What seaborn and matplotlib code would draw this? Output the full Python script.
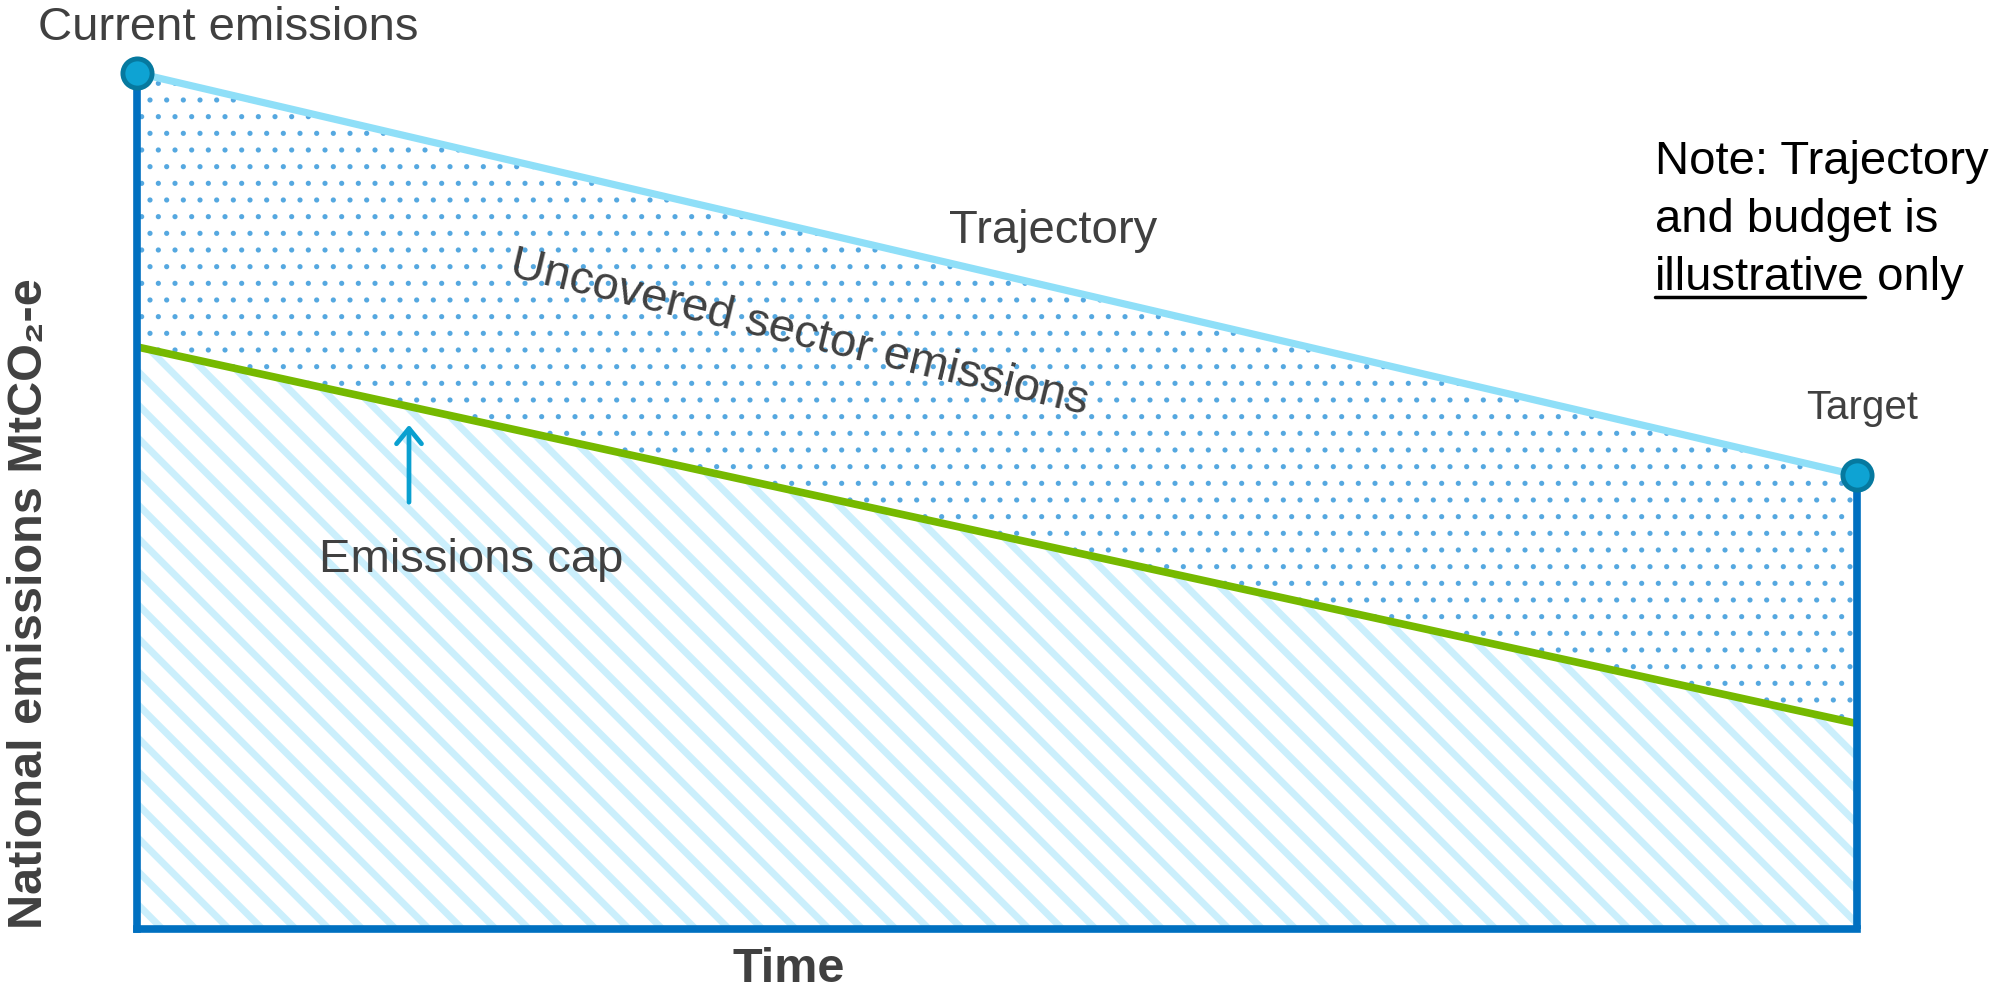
import matplotlib
matplotlib.use("Agg")
import matplotlib.pyplot as plt
import matplotlib.lines as mlines
import seaborn as sns
import pandas as pd

# ---------------- data ----------------
time = [0, 1]                      # current -> target
trajectory = [100, 53]             # national emissions trajectory
emissions_cap = [68, 24]           # covered-sector cap
point_labels = ["Current emissions", "Target"]

# ---------------- style ----------------
sns.set_style("white")
plt.rcParams['font.family'] = ['Liberation Sans', 'DejaVu Sans']

W, H = 2011, 992
GREY = '#404040'
AXIS_BLUE = '#0070c0'


def fx(px):
    return px / W


def fy(py):
    return 1 - py / H


fig = plt.figure(figsize=(W / 100, H / 100), dpi=100)
ax = fig.add_axes([fx(137), fy(929), (1857 - 137) / W, (929 - 73) / H])

df = pd.DataFrame({'time': time, 'trajectory': trajectory, 'cap': emissions_cap})

# hatched area under the cap (hatch linewidth is taken at creation time)
with plt.rc_context({'hatch.linewidth': 5.0}):
    cap_fill = ax.fill_between(df['time'], 0, df['cap'], facecolor='white',
                               edgecolor='#cbeffc', hatch='\\', linewidth=0, zorder=1)

# dotted area between cap and trajectory
with plt.rc_context({'hatch.linewidth': 1.3}):
    unc_fill = ax.fill_between(df['time'], df['cap'], df['trajectory'], facecolor='none',
                               edgecolor='#55a8e0', hatch='.', linewidth=0, zorder=1)

# lines
sns.lineplot(data=df, x='time', y='trajectory', color='#8fdff8', linewidth=5.2, ax=ax, zorder=3)
sns.lineplot(data=df, x='time', y='cap', color='#76b900', linewidth=5.5, ax=ax, zorder=3)

# vertical at target
ax.vlines(df['time'].iloc[-1], 0, df['trajectory'].iloc[-1], color=AXIS_BLUE,
          linewidth=5.5, zorder=4, clip_on=False)

# end-point markers
sns.scatterplot(data=df, x='time', y='trajectory', s=21 ** 2, color='#0ea3d3',
                edgecolor='#06799f', linewidth=3.5, zorder=6, clip_on=False, ax=ax)

ax.set_xlim(0, 1)
ax.set_ylim(0, 100)
ax.set_xticks([])
ax.set_yticks([])
sns.despine(ax=ax)
for s in ['left', 'bottom']:
    ax.spines[s].set_color(AXIS_BLUE)
    ax.spines[s].set_linewidth(5.5)
    ax.spines[s].set_zorder(5)

# axis labels
ax.set_xlabel('Time', fontsize=35, fontweight='bold', color=GREY)
ax.xaxis.set_label_coords((789 - 137) / 1720, (929 - 970) / 856)
ax.xaxis.label.set_va('center')
ax.set_ylabel('National emissions MtCO\u2082-e', fontsize=35, fontweight='bold', color=GREY)
ax.yaxis.set_label_coords((30 - 137) / 1720, (929 - 604) / 856)
ax.yaxis.label.set_va('center')

# annotations
fig.text(fx(228), fy(28), point_labels[0], fontsize=34, color=GREY, ha='center', va='center')
fig.text(fx(1862), fy(408), point_labels[1], fontsize=29, color=GREY, ha='center', va='center')
fig.text(fx(1053), fy(231), 'Trajectory', fontsize=34, color=GREY, ha='center', va='center')
fig.text(fx(799), fy(334), 'Uncovered sector emissions', fontsize=34, color=GREY,
         ha='center', va='center', rotation=-13.5, rotation_mode='anchor')
fig.text(fx(471), fy(560), 'Emissions cap', fontsize=34, color=GREY, ha='center', va='center')

ax.annotate('', xy=(fx(409), fy(422)), xytext=(fx(409), fy(505)),
            xycoords='figure fraction', textcoords='figure fraction',
            arrowprops=dict(arrowstyle='->,head_length=1.1,head_width=0.9',
                            color='#0aa0d0', lw=3.4))

# note box
fig.text(fx(1655), fy(174), 'Note: Trajectory', fontsize=34, color='black', va='baseline')
fig.text(fx(1655), fy(232), 'and budget is', fontsize=34, color='black', va='baseline')
t_ill = fig.text(fx(1655), fy(290), 'illustrative', fontsize=34, color='black', va='baseline')

fig.canvas.draw()
r = fig.canvas.get_renderer()
bb = t_ill.get_window_extent(renderer=r)
fig.text(bb.x1 / W, fy(290), ' only', fontsize=34, color='black', va='baseline')
uy = (H - 290 - 7) / H
fig.add_artist(mlines.Line2D([bb.x0 / W, bb.x1 / W], [uy, uy], color='black', linewidth=2.5))

fig.savefig('out.png', dpi=100)
